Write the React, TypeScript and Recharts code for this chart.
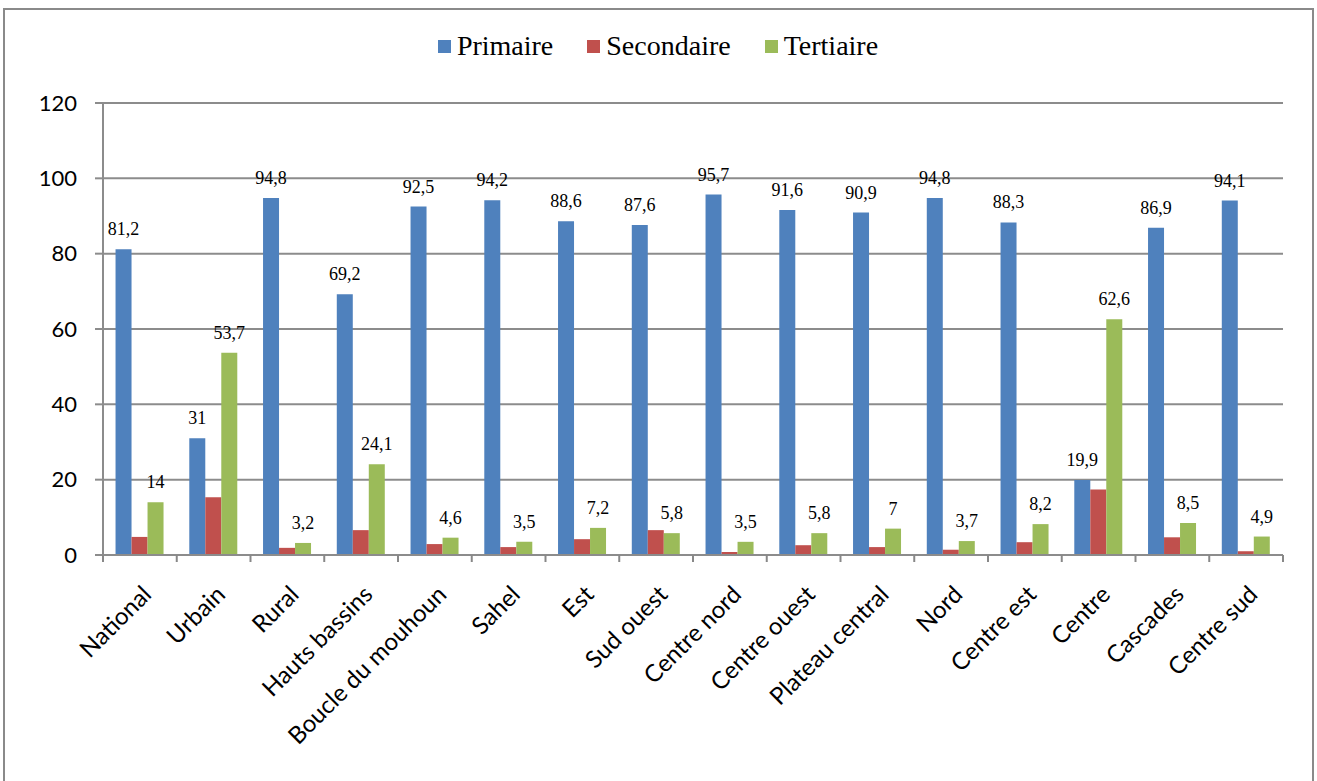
import React from 'react'
import { BarChart, Bar, XAxis, YAxis, CartesianGrid, Legend, LabelList } from 'recharts'

const categories = [
  'National', 'Urbain', 'Rural', 'Hauts bassins', 'Boucle du mouhoun', 'Sahel', 'Est', 'Sud ouest',
  'Centre nord', 'Centre ouest', 'Plateau central', 'Nord', 'Centre est', 'Centre', 'Cascades', 'Centre sud',
]
const primaire = [81.2, 31, 94.8, 69.2, 92.5, 94.2, 88.6, 87.6, 95.7, 91.6, 90.9, 94.8, 88.3, 19.9, 86.9, 94.1]
const secondaire = [4.8, 15.3, 1.9, 6.6, 2.9, 2.1, 4.2, 6.6, 0.8, 2.6, 2.1, 1.4, 3.4, 17.4, 4.7, 1.0]
const tertiaire = [14, 53.7, 3.2, 24.1, 4.6, 3.5, 7.2, 5.8, 3.5, 5.8, 7, 3.7, 8.2, 62.6, 8.5, 4.9]
const yTicks = [0, 20, 40, 60, 80, 100, 120]

const series = [
  { key: 'Primaire', color: '#4F81BD', labels: true },
  { key: 'Secondaire', color: '#C0504D', labels: false },
  { key: 'Tertiaire', color: '#9BBB59', labels: true },
]

const data = categories.map((name, i) => ({
  name,
  Primaire: primaire[i],
  Secondaire: secondaire[i],
  Tertiaire: tertiaire[i],
}))

const fmt = (v: any) => String(v).replace('.', ',')

const CHART_W = 1306
const PLOT_W = 1180
const step = PLOT_W / categories.length

const XTick = (props: any) => {
  const { x, y, payload, index } = props
  const ax = x + 13
  const ay = y + 33
  return (
    <g>
      <line x1={x - step / 2} y1={y - 8} x2={x - step / 2} y2={y - 1} stroke="#888" strokeWidth={2} />
      {index === categories.length - 1 && (
        <line x1={x + step / 2} y1={y - 8} x2={x + step / 2} y2={y - 1} stroke="#888" strokeWidth={2} />
      )}
      <text
        x={ax}
        y={ay}
        textAnchor="end"
        transform={`rotate(-45, ${ax}, ${ay})`}
        fontFamily="Lato, 'Open Sans', sans-serif"
        fontSize={24}
        fill="#000"
      >
        {payload.value}
      </text>
    </g>
  )
}

const LegendContent = () => (
  <div style={{ display: 'flex', justifyContent: 'center', gap: 34, fontFamily: "'Liberation Serif', serif", fontSize: 28 }}>
    {series.map(s => (
      <span key={s.key} style={{ display: 'flex', alignItems: 'center' }}>
        <span style={{ width: 13, height: 13, background: s.color, display: 'inline-block', marginRight: 6 }} />
        {s.key}
      </span>
    ))}
  </div>
)

export default function App() {
  return (
    <div
      style={{
        position: 'absolute',
        left: 3,
        top: 8,
        width: 1311,
        height: 780,
        border: '2px solid #8a8a8a',
        boxSizing: 'border-box',
        background: '#fff',
      }}
    >
      <BarChart
        width={CHART_W}
        height={776}
        data={data}
        margin={{ top: 61, right: 28, left: 38, bottom: 31 }}
        barCategoryGap="17%"
        barGap={0}
      >
        <CartesianGrid vertical={false} stroke="#8c8c8c" strokeWidth={2} />
        <Legend
          verticalAlign="top"
          content={<LegendContent />}
          wrapperStyle={{ top: 20, left: 0, width: CHART_W }}
        />
        <XAxis
          dataKey="name"
          interval={0}
          height={200}
          tickLine={false}
          axisLine={{ stroke: '#8c8c8c', strokeWidth: 2 }}
          tick={<XTick />}
        />
        <YAxis
          width={60}
          domain={[0, 120]}
          ticks={yTicks}
          axisLine={{ stroke: '#8c8c8c', strokeWidth: 2 }}
          tickLine={{ stroke: '#8c8c8c', strokeWidth: 2 }}
          tickSize={8}
          tick={{ fill: '#000', fontSize: 22, fontFamily: "Lato, 'Open Sans', sans-serif", dx: -16 }}
        />
        {series.map(s => (
          <Bar key={s.key} dataKey={s.key} fill={s.color} isAnimationActive={false}>
            {s.labels && (
              <LabelList
                dataKey={s.key}
                position="top"
                offset={14}
                formatter={fmt}
                style={{ fill: '#000', fontSize: 18, fontFamily: "'Liberation Serif', serif" }}
              />
            )}
          </Bar>
        ))}
      </BarChart>
    </div>
  )
}
